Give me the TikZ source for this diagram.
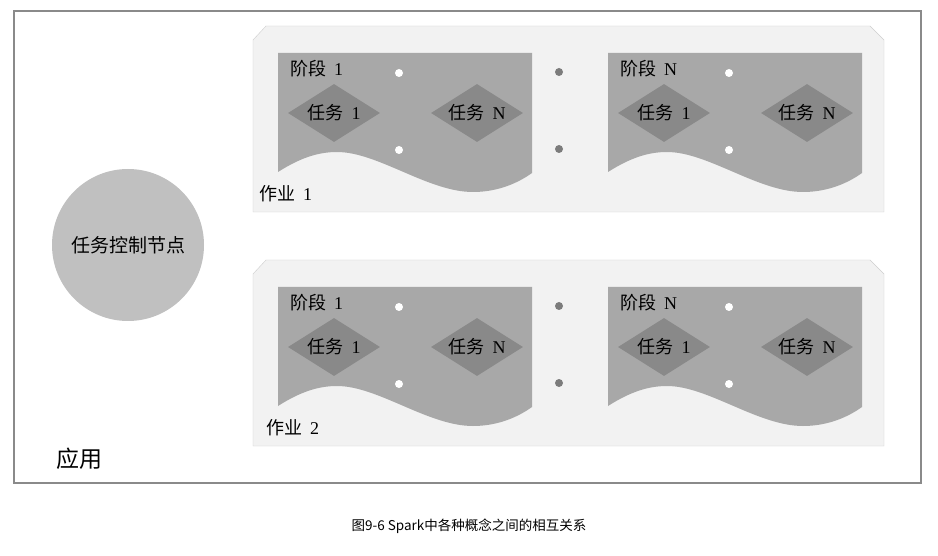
\documentclass[tikz,border=0pt]{standalone}
\usepackage{fontspec}
\setmainfont{Liberation Serif}
\newfontfamily\cjk{Noto Sans CJK SC}
\usetikzlibrary{shapes.geometric}
\definecolor{framegray}{HTML}{8A8A8A}
\definecolor{jobgray}{HTML}{F2F2F2}
\definecolor{jobline}{HTML}{CFCFCF}
\definecolor{stagegray}{HTML}{A8A8A8}
\definecolor{taskgray}{HTML}{898989}
\definecolor{drivergray}{HTML}{C0C0C0}
\definecolor{dotgray}{HTML}{7C7C7C}
\newcommand\zh[1]{{\cjk #1}\hspace{8pt}}
\begin{document}
\begin{tikzpicture}[x=1pt,y=-1pt,font=\fontsize{18}{18}\selectfont,
	task/.style={diamond,aspect=1.6,fill=taskgray,minimum width=92pt,minimum height=58pt,inner sep=0pt},
	label/.style={anchor=west,inner sep=0pt}]
			\useasboundingbox (0,0) rectangle (938,556);
			\draw[framegray,line width=1.2pt,fill=white] (14,11) rectangle (921,483);
			\node[circle,fill=drivergray,minimum size=152pt,inner sep=0pt,font=\cjk\fontsize{19}{19}\selectfont] (driver) at (128,245) {任务控制节点};
			\node[label,font=\cjk\fontsize{23}{23}\selectfont] (app) at (56,459) {应用};
			\foreach \j/\dy/\lx in {1/0/259,2/234/266}{
				\begin{scope}[yshift=-\dy pt]
					\draw[jobline,fill=jobgray] (253,212)--(253,40)--(266,26)--(870,26)--(884,40)--(884,212)--cycle;
					\foreach \sx/\k in {278/1,608/N}{
						\fill[stagegray] (\sx,53)--({\sx+254},53)--({\sx+254},173)
							.. controls ({\sx+240},183) and ({\sx+220},192) .. ({\sx+195},192)
							.. controls ({\sx+150},192) and ({\sx+100},152) .. ({\sx+59},152)
							.. controls ({\sx+40},152) and ({\sx+22},158) .. (\sx,172)--cycle;
						\node[label] (stage-\j-\k) at ({\sx+12},69) {\zh{阶段}\k};
						\node[task] (task-\j-\k-1) at ({\sx+56},113) {\zh{任务}1};
						\node[task] (task-\j-\k-N) at ({\sx+199},113) {\zh{任务}N};
						\foreach \y in {73,150} \fill[white] ({\sx+121},\y) circle (4pt);
					}
					\foreach \y in {72,149} \fill[dotgray] (559,\y) circle (4pt);
					\node[label] (job-\j) at (\lx,194) {\zh{作业}\j};
				\end{scope}
			}
			\node[font=\cjk\fontsize{13.5}{13.5}\selectfont] (caption) at (469,526) {图9-6 Spark中各种概念之间的相互关系};
\end{tikzpicture}
\end{document}
